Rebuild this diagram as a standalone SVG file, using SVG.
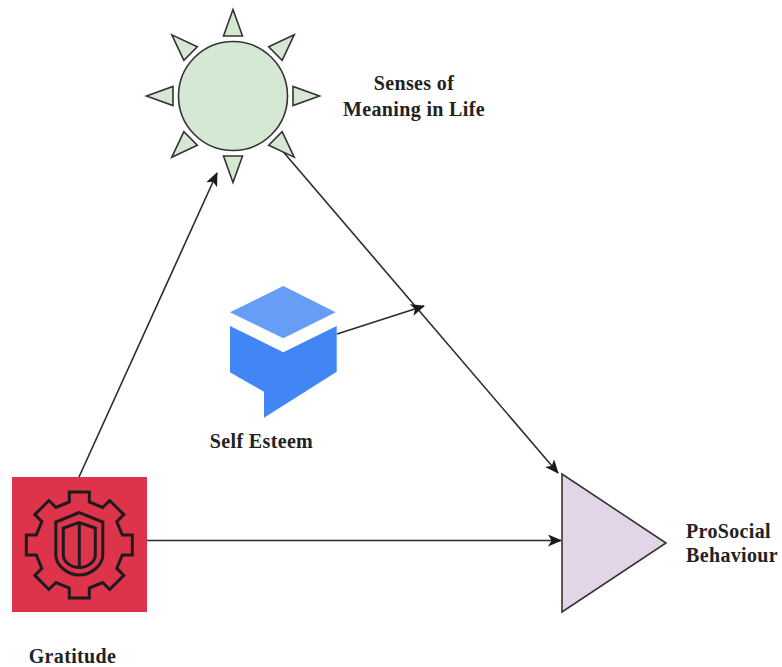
<svg xmlns="http://www.w3.org/2000/svg" xmlns:xlink="http://www.w3.org/1999/xlink" width="782" height="667" viewBox="0 0 782 667">
<style>
.lbl{font-family:"Liberation Serif","Times New Roman",serif;font-weight:bold;font-size:20px;letter-spacing:.35px;fill:#222;text-anchor:middle}
.ln{fill:none;stroke:#2b2b2b;stroke-width:1.6}
.sun{fill:#d5e8d4;stroke:#333;stroke-width:1.6}
.gl{fill:none;stroke:#1f1a1c;stroke-width:3;stroke-linejoin:miter}
</style>
<defs>
<marker id="ah" viewBox="0 0 14 12" refX="13" refY="6" markerWidth="14" markerHeight="12" markerUnits="userSpaceOnUse" orient="auto"><path d="M0,0 L14,6 L0,12 L3.5,6 Z" fill="#1a1a1a"/></marker>
<polygon id="ray" points="233,9.5 223.5,36 242.5,36"/>
</defs>
<rect width="782" height="667" fill="#fff"/>
<g id="connectors">
<line class="ln" x1="79" y1="477" x2="217" y2="173" marker-end="url(#ah)"/>
<line class="ln" x1="280" y1="148" x2="558" y2="473" marker-end="url(#ah)"/>
<line class="ln" x1="337" y1="334" x2="424" y2="306" marker-end="url(#ah)"/>
<line class="ln" x1="147" y1="540.5" x2="561" y2="540.5" marker-end="url(#ah)"/>
</g>
<g id="node-meaning">
<g class="sun">
<use xlink:href="#ray" href="#ray"/>
<use xlink:href="#ray" href="#ray" transform="rotate(45 233 96)"/>
<use xlink:href="#ray" href="#ray" transform="rotate(90 233 96)"/>
<use xlink:href="#ray" href="#ray" transform="rotate(135 233 96)"/>
<use xlink:href="#ray" href="#ray" transform="rotate(180 233 96)"/>
<use xlink:href="#ray" href="#ray" transform="rotate(225 233 96)"/>
<use xlink:href="#ray" href="#ray" transform="rotate(270 233 96)"/>
<use xlink:href="#ray" href="#ray" transform="rotate(315 233 96)"/>
<circle cx="233" cy="96" r="54.5"/>
</g>
<text class="lbl" x="414" y="90">Senses of</text>
<text class="lbl" x="414" y="116">Meaning in Life</text>
</g>
<g id="node-selfesteem">
<polygon points="283.3,286 335.7,312.3 283.3,338.3 230,312.3" fill="#669df6"/>
<polygon points="230,326 283.3,352.3 336.7,326 336.7,371.7 264,417.7 264,391.7 230,372.3" fill="#4285f4"/>
<text class="lbl" x="261.500" y="448">Self Esteem</text>
</g>
<g id="node-gratitude">
<rect x="12" y="477" width="135" height="135" fill="#dd344c"/>
<g transform="translate(79.3 545)">
<polygon class="gl" points="-10,-43 -10,-53 10,-53 10,-43 23.3,-37.5 30.4,-44.5 44.5,-30.4 37.5,-23.3 43,-10 53,-10 53,10 43,10 37.5,23.3 44.5,30.4 30.4,44.5 23.3,37.5 10,43 10,53 -10,53 -10,43 -23.3,37.5 -30.4,44.5 -44.5,30.4 -37.5,23.3 -43,10 -53,10 -53,-10 -43,-10 -37.5,-23.3 -44.5,-30.4 -30.4,-44.5 -23.3,-37.5"/>
<path class="gl" d="M0,-32.5 L-23.5,-23 V10 C-23.5,20 -12,30 0,30 C12,30 23.5,20 23.5,10 V-23 Z"/>
<path class="gl" d="M0,-22.5 L-16,-17 V10 C-16,17 -8,22.5 0,22.5 C8,22.5 16,17 16,10 V-17 Z"/>
<line class="gl" x1="0" y1="-22" x2="0" y2="22"/>
</g>
<text class="lbl" x="72.500" y="662.500">Gratitude</text>
</g>
<g id="node-prosocial">
<polygon points="562,474 562,612 666,543" fill="#e1d5e7" stroke="#333" stroke-width="1.6"/>
<text class="lbl" x="686" y="538" style="text-anchor:start">ProSocial</text>
<text class="lbl" x="686" y="562" style="text-anchor:start">Behaviour</text>
</g>
</svg>
